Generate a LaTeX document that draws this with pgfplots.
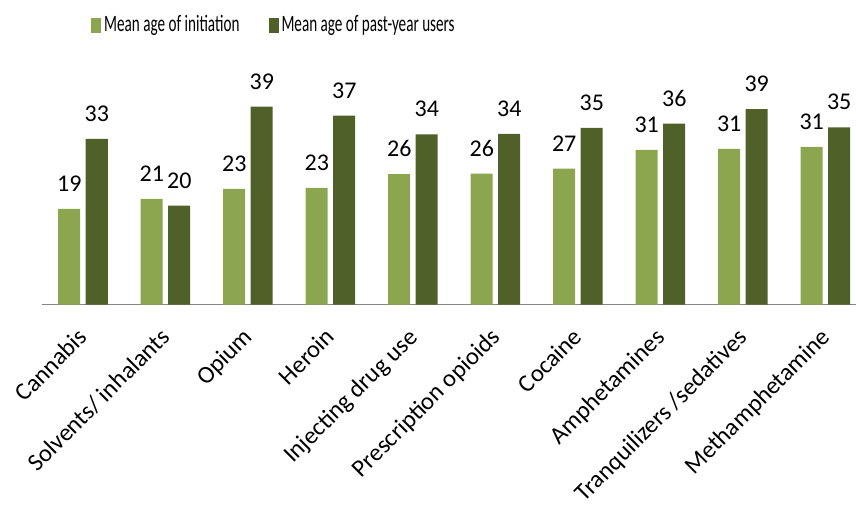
\documentclass[border=0pt]{standalone}
\usepackage{pgfplots}
\pgfplotsset{compat=1.18}
\usepackage{fontspec}
\setmainfont{Carlito}
\usepackage{graphicx}

\definecolor{lightolive}{RGB}{139,166,79}
\definecolor{darkolive}{RGB}{79,97,40}
\definecolor{axisgray}{RGB}{134,134,134}

\begin{document}
\begin{tikzpicture}
\fontsize{23.5}{28}\selectfont
\begin{axis}[
    ybar,
    scale only axis,
    width=814.25pt, height=252.5pt,
    xmin=-0.5, xmax=9.37,
    ymin=0, ymax=50,
    bar width=22pt,
    axis x line=bottom,
    axis y line=none,
    x axis line style={-, draw=axisgray, line width=1.5pt},
    xtick=data,
    major tick length=0pt,
    xticklabels={Cannabis, Solvents/ inhalants, Opium, Heroin, Injecting drug use,
        Prescription opioids, Cocaine, Amphetamines, Tranquilizers /sedatives, Methamphetamine},
    xticklabel style={rotate=45, anchor=north east, inner sep=0pt, xshift=-20pt, yshift=-11pt,
        font=\fontsize{24.5}{29}\selectfont},
    nodes near coords,
    nodes near coords style={font=\fontsize{24}{28}\selectfont, anchor=south,
        inner sep=0pt, yshift=17pt,
        /pgf/number format/fixed, /pgf/number format/precision=0,
        /pgf/number format/assume math mode=true},
    legend columns=2,
    legend style={at={(0.0605,1.105)}, anchor=west, draw=none, fill=none,
        inner sep=0pt, nodes={inner sep=0pt},
        /tikz/every odd column/.append style={column sep=3pt},
        /tikz/every even column/.append style={column sep=29pt},
        font=\fontsize{23.5}{28}\selectfont},
]
\addplot[fill=lightolive, draw=none, bar shift=-13.75pt,
    legend image code/.code={\fill[lightolive] (0pt,-7.5pt) rectangle (10pt,7.5pt);}]
    coordinates {(0,18.95) (1,20.9) (2,22.9) (3,23.1) (4,25.8) (5,25.9) (6,26.9) (7,30.6) (8,30.8) (9,31.2)};
\addplot[fill=darkolive, draw=none, bar shift=13.75pt,
    legend image code/.code={\fill[darkolive] (0pt,-7.5pt) rectangle (10pt,7.5pt);}]
    coordinates {(0,32.8) (1,19.6) (2,39.2) (3,37.4) (4,33.7) (5,33.8) (6,35.0) (7,35.8) (8,38.7) (9,35.1)};
\legend{\scalebox{0.645}[1]{Mean age of initiation}, \scalebox{0.645}[1]{Mean age of past-year users}}
\end{axis}
\pgfresetboundingbox
\useasboundingbox (-41.75pt,-199.5pt) rectangle (814.25pt,304.5pt);
\end{tikzpicture}
\end{document}
